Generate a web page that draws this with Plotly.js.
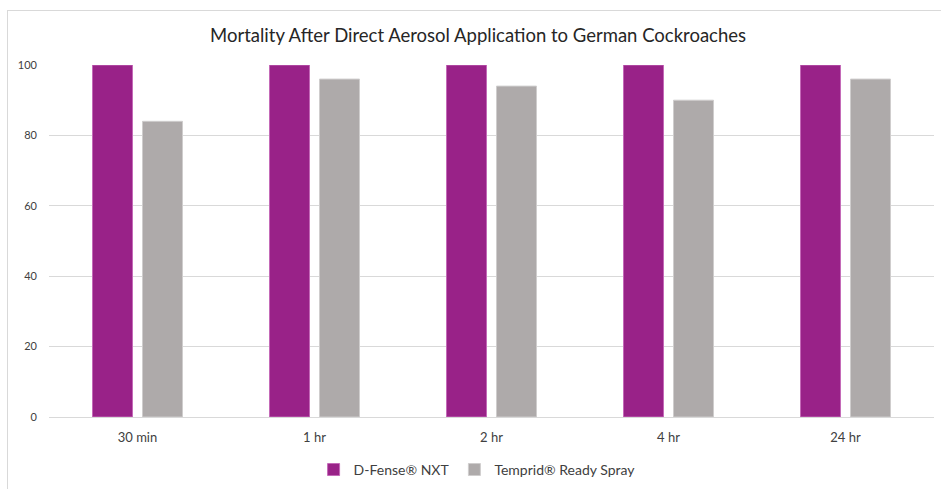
<!DOCTYPE html>
<html>
<head>
<meta charset="utf-8">
<script src="https://cdn.plot.ly/plotly-3.0.1.min.js"></script>
<style>
html,body{margin:0;padding:0;background:#fff;}
#wrap{position:relative;width:941px;height:489px;overflow:hidden;}
#chart{position:absolute;left:0;top:0;width:941px;height:489px;}
#frame{position:absolute;left:7px;top:10px;width:1000px;height:600px;border:1px solid #d9d9d9;pointer-events:none;}
</style>
</head>
<body>
<div id="wrap"><div id="chart"></div><div id="frame"></div></div>
<script>
const categories = ["30 min", "1 hr", "2 hr", "4 hr", "24 hr"];
const dfenseValues = [100, 100, 100, 100, 100];
const tempridValues = [84, 96, 94, 90, 96];
const seriesNames = ["D-Fense® NXT", "Temprid® Ready Spray"];
const yTicks = [0, 20, 40, 60, 80, 100];

const font = "Lato, 'Open Sans', sans-serif";
const traces = [
  {type: "bar", name: seriesNames[0], x: categories, y: dfenseValues,
   marker: {color: "#992288", line: {color: "#c46ab8", width: 1}}},
  {type: "bar", name: seriesNames[1], x: categories, y: tempridValues,
   marker: {color: "#aeaaaa", line: {color: "#cfcdcd", width: 1}}}
];
const layout = {
  width: 941, height: 489,
  margin: {l: 49, r: 7, t: 65, b: 72},
  paper_bgcolor: "rgba(0,0,0,0)", plot_bgcolor: "#fff",
  barmode: "group", bargap: 0.435, bargroupgap: 0.2,
  title: {text: "Mortality After Direct Aerosol Application to German Cockroaches",
    font: {family: font, size: 18.5, color: "#262626"}, x: 0.508, xanchor: "center", y: 0.928, yanchor: "middle"},
  xaxis: {showgrid: false, showline: true, linecolor: "#d9d9d9", linewidth: 1, automargin: false,
    tickfont: {family: font, size: 13, color: "#404040"}, ticks: "", ticklabelstandoff: 8},
  yaxis: {range: [0, 100], tickvals: yTicks, showgrid: true, gridcolor: "#d9d9d9", gridwidth: 1,
    zeroline: false, showline: false, ticks: "", automargin: false,
    tickfont: {family: font, size: 11, color: "#404040"}, ticklabelstandoff: 11},
  legend: {orientation: "h", x: 0.507, xanchor: "center", xref: "container", yref: "container",
    y: 0.039, yanchor: "middle",
    font: {family: font, size: 14, color: "#404040"}, itemwidth: 30, tracegroupgap: 0},
  showlegend: true
};
Plotly.newPlot("chart", traces, layout, {displayModeBar: false, staticPlot: true});
</script>
</body>
</html>
